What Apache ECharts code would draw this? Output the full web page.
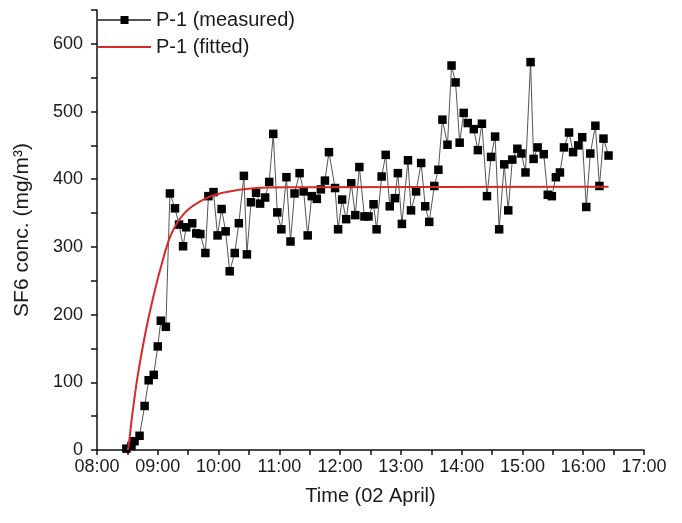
<!DOCTYPE html>
<html>
<head>
<meta charset="utf-8">
<script src="https://cdn.jsdelivr.net/npm/echarts@6/dist/echarts.min.js"></script>
<style>
	html,body{margin:0;padding:0;background:#fff;}
	#main{width:682px;height:523px;}
</style>
</head>
<body>
<div id="main"></div>
<script type="text/javascript">
	// measured SF6
	var measTime = ['08:29','08:34','08:37','08:42','08:47','08:51','08:56','09:00','09:03','09:08',
		'09:12','09:17','09:21','09:25','09:28','09:34','09:38','09:42','09:47','09:50',
		'09:55','09:59','10:03','10:07','10:11','10:16','10:20','10:25','10:28','10:32',
		'10:37','10:41','10:46','10:50','10:54','10:58','11:02','11:07','11:11','11:15',
		'11:20','11:24','11:28','11:32','11:37','11:41','11:45','11:49','11:55','11:58',
		'12:02','12:06','12:11','12:15','12:19','12:24','12:28','12:33','12:36','12:41',
		'12:45','12:49','12:54','12:57','13:01','13:07','13:10','13:15','13:20','13:24',
		'13:28','13:33','13:37','13:41','13:46','13:50','13:54','13:58','14:02','14:06',
		'14:12','14:16','14:20','14:25','14:29','14:33','14:37','14:42','14:46','14:50',
		'14:55','14:59','15:03','15:08','15:11','15:15','15:21','15:25','15:29','15:33',
		'15:37','15:41','15:46','15:50','15:55','15:59','16:03','16:07','16:12','16:16',
		'16:20','16:25'];
	var measConc = [2,6,13,21,65,103,111,153,191,182,
		379,357,333,301,329,335,320,319,291,375,
		381,317,356,323,264,291,335,405,289,366,
		380,364,373,396,467,351,326,403,308,379,
		409,382,317,375,371,385,398,440,387,326,
		370,341,394,347,418,345,345,363,326,404,
		436,360,372,409,334,428,354,382,424,360,
		337,390,414,488,451,568,543,454,498,483,
		474,443,482,375,433,463,326,422,354,429,
		445,438,410,573,430,447,437,377,375,403,
		410,447,469,440,450,462,359,438,479,390,
		460,435];

	// fitted curve, points
	var fitTime = ['08:30','08:31','08:35','08:40','08:47','08:54','09:03','09:13','09:27','09:45',
		'10:04','10:37','11:10','16:25'];
	var fitConc = [0,4,54,108,167,216,270,318,351,370,
		380,387,388,389];

	function toHour(s){
		var p = s.split(':');
		return parseInt(p[0],10) + parseInt(p[1],10)/60;
	}
	function pairs(t, v){
		var out = [];
		for(var i=0;i<t.length;i++){ out.push([toHour(t[i]), v[i]]); }
		return out;
	}

	var font = 'Liberation Sans, Arial, sans-serif';
	var ink = '#1a1a1a';
	var red = '#d42a2a';
	var myChart = echarts.init(document.getElementById('main'));
	var option = {
		animation: false,
		backgroundColor: '#fff',
		textStyle: {fontFamily: font},
		grid: {left: 97, right: 38, top: 10, bottom: 73},
		legend: {
			orient: 'vertical',
			left: 97, top: 10,
			padding: 0,
			itemWidth: 53, itemHeight: 10,
			itemGap: 7,
			textStyle: {fontSize: 20, color: ink, fontFamily: font},
			data: [
				{name: 'P-1 (measured)'},
				{name: 'P-1 (fitted)', itemStyle: {opacity: 0}}
			]
		},
		xAxis: {
			type: 'value',
			min: 8, max: 17, interval: 0.5,
			name: 'Time (02 April)',
			nameLocation: 'middle',
			nameGap: 36,
			nameTextStyle: {fontSize: 20, color: ink, fontFamily: font},
			axisLine: {onZero: false, lineStyle: {color: '#111', width: 1.5}},
			axisTick: {inside: false, length: 5, lineStyle: {color: '#111', width: 1.5}},
			axisLabel: {
				fontSize: 18, color: ink, margin: 8,
				formatter: function(v){
					if(Math.abs(v - Math.round(v)) > 1e-6) return '';
					var h = Math.round(v);
					return (h < 10 ? '0' + h : h) + ':00';
				}
			},
			splitLine: {show: false}
		},
		yAxis: {
			type: 'value',
			min: 0, max: 650, interval: 50,
			name: 'SF6 conc. (mg/m\u00b3)',
			nameLocation: 'middle',
			nameGap: 64,
			nameTextStyle: {fontSize: 21, color: ink, fontFamily: font},
			axisLine: {lineStyle: {color: '#111', width: 1.5}},
			axisTick: {length: 6, lineStyle: {color: '#111', width: 1.5}},
			axisLabel: {
				fontSize: 18, color: ink, margin: 14,
				formatter: function(v){ return v % 100 === 0 ? v : ''; }
			},
			splitLine: {show: false}
		},
		series: [{
			name: 'P-1 (measured)',
			type: 'line',
			data: pairs(measTime, measConc),
			symbol: 'rect',
			symbolSize: 8.5,
			itemStyle: {color: '#000'},
			lineStyle: {color: '#555', width: 1},
			z: 2
		},{
			name: 'P-1 (fitted)',
			type: 'line',
			data: pairs(fitTime, fitConc),
			symbol: 'none',
			smooth: 0.3,
			itemStyle: {color: red},
			lineStyle: {color: red, width: 2},
			z: 3
		}]
	};
	myChart.setOption(option);
</script>
</body>
</html>
